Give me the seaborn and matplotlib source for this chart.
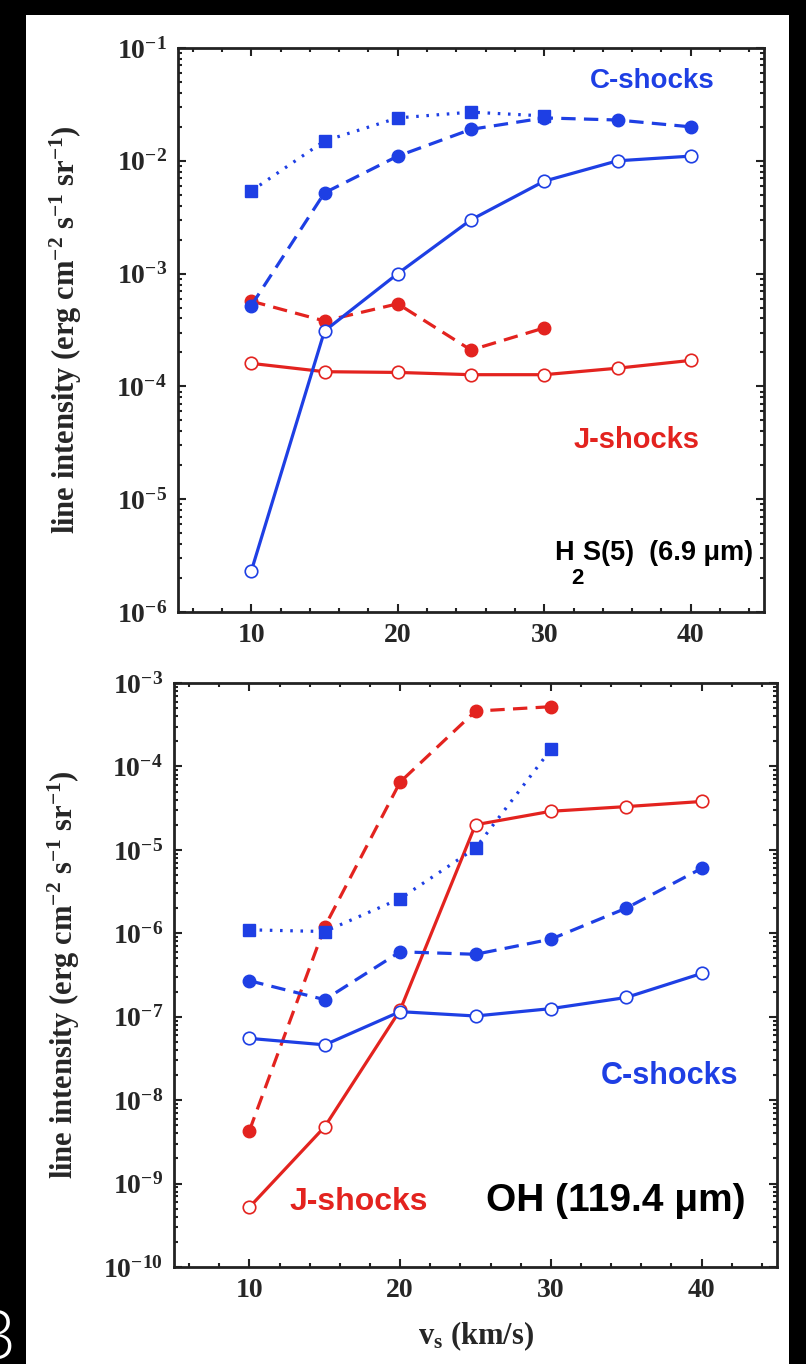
import numpy as np
import pandas as pd
import matplotlib
matplotlib.use("Agg")
import matplotlib.pyplot as plt
import seaborn as sns
from matplotlib.ticker import LogLocator, LogFormatterMathtext, MultipleLocator, NullFormatter
from matplotlib.patches import Rectangle

# ---------------- data ----------------
vs_all = [10, 15, 20, 25, 30, 35, 40]
vs_short = [10, 15, 20, 25, 30]

# H2 S(5) (6.9 um)
h2_c_square = [5.4e-3, 1.5e-2, 2.4e-2, 2.7e-2, 2.5e-2]
h2_c_filled = [5.2e-4, 5.2e-3, 1.1e-2, 1.9e-2, 2.4e-2, 2.3e-2, 2.0e-2]
h2_c_open = [2.3e-6, 3.1e-4, 1.0e-3, 3.0e-3, 6.6e-3, 1.0e-2, 1.1e-2]
h2_j_filled = [5.7e-4, 3.8e-4, 5.4e-4, 2.1e-4, 3.3e-4]
h2_j_open = [1.6e-4, 1.35e-4, 1.33e-4, 1.27e-4, 1.27e-4, 1.45e-4, 1.7e-4]

# OH (119.4 um)
oh_c_square = [1.1e-6, 1.05e-6, 2.6e-6, 1.05e-5, 1.6e-4]
oh_c_filled = [2.7e-7, 1.6e-7, 6.0e-7, 5.6e-7, 8.5e-7, 2.0e-6, 6.0e-6]
oh_c_open = [5.5e-8, 4.6e-8, 1.15e-7, 1.02e-7, 1.25e-7, 1.7e-7, 3.3e-7]
oh_j_filled = [4.3e-9, 1.2e-6, 6.5e-5, 4.6e-4, 5.2e-4]
oh_j_open = [5.2e-10, 4.8e-9, 1.2e-7, 2.0e-5, 2.9e-5, 3.3e-5, 3.8e-5]

x_ticks = [10, 20, 30, 40]
ylabel_text = r"line intensity (erg cm$^{-2}$ s$^{-1}$ sr$^{-1}$)"
xlabel_text = r"v$_{\mathrm{s}}$ (km/s)"

BLUE = "#1e3fe4"
RED = "#e3231f"

# ---------------- style ----------------
sns.set_theme(style="ticks")
plt.rcParams.update({
    "font.family": ["Liberation Serif", "DejaVu Serif"],
    "font.weight": "bold",
    "axes.labelweight": "bold",
    "mathtext.fontset": "custom",
    "mathtext.rm": "Liberation Serif:bold",
    "mathtext.it": "Liberation Serif:bold:italic",
    "mathtext.bf": "Liberation Serif:bold",
    "mathtext.default": "rm",
    "axes.edgecolor": "#222222",
    "axes.linewidth": 2.0,
    "axes.facecolor": "white",
})

fig = plt.figure(figsize=(8.06, 13.64), dpi=100, facecolor="black")
fig.patches.append(Rectangle((26 / 806, 0), (789 - 26) / 806, (1364 - 15) / 1364,
                             transform=fig.transFigure, facecolor="white",
                             edgecolor="none", zorder=-10))

W, H = 806.0, 1364.0
def axes_px(l, r, t, b):
    return [l / W, 1 - b / H, (r - l) / W, (b - t) / H]

ax1 = fig.add_axes(axes_px(178, 764, 48, 612))
ax2 = fig.add_axes(axes_px(174, 777, 683, 1267))

DASH = (0, (4.5, 2.6))
DOT = (0, (0.8, 2.4))
LW = 2.3
MS = 9

def draw(ax, x, y, color, ls, marker, filled):
    sns.lineplot(x=x, y=y, ax=ax, color=color, linestyle=ls, linewidth=LW,
                 marker=marker, markersize=MS if marker == "o" else MS - 0.5,
                 markerfacecolor=color if filled else "white",
                 markeredgecolor=color, markeredgewidth=1.0 if filled else 1.2,
                 errorbar=None, legend=False, zorder=3)

def series(ax, c_sq, c_fill, c_open, j_fill, j_open):
    draw(ax, vs_all, j_open, RED, "-", "o", False)
    draw(ax, vs_short, j_fill, RED, DASH, "o", True)
    draw(ax, vs_all, c_open, BLUE, "-", "o", False)
    draw(ax, vs_all, c_fill, BLUE, DASH, "o", True)
    draw(ax, vs_short, c_sq, BLUE, DOT, "s", True)

series(ax1, h2_c_square, h2_c_filled, h2_c_open, h2_j_filled, h2_j_open)
series(ax2, oh_c_square, oh_c_filled, oh_c_open, oh_j_filled, oh_j_open)

def style_axes(ax, ylim):
    ax.set_yscale("log")
    ax.set_xlim(5, 45)
    ax.set_ylim(*ylim)
    ax.set_xticks(x_ticks)
    ax.set_xticklabels([str(t) for t in x_ticks])
    ax.xaxis.set_minor_locator(MultipleLocator(2))
    ax.yaxis.set_major_locator(LogLocator(base=10, numticks=20))
    ax.yaxis.set_minor_locator(LogLocator(base=10, subs=np.arange(2, 10), numticks=20))
    ax.yaxis.set_major_formatter(LogFormatterMathtext())
    ax.yaxis.set_minor_formatter(NullFormatter())
    ax.tick_params(which="both", direction="in", top=True, right=True,
                   width=1.5, color="#222222")
    ax.tick_params(which="major", length=5.5, labelsize=20, pad=8)
    ax.tick_params(which="minor", length=3)
    ax.set_xlabel("")
    ax.set_ylabel("")
    for lab in ax.get_xticklabels() + ax.get_yticklabels():
        lab.set_fontweight("bold")

style_axes(ax1, (1e-6, 1e-1))
style_axes(ax2, (1e-10, 1e-3))

ax1.set_ylabel(ylabel_text, fontsize=22, fontweight="bold")
ax1.yaxis.set_label_coords(-0.160, 0.5)
ax2.set_ylabel(ylabel_text, fontsize=22, fontweight="bold")
ax2.yaxis.set_label_coords(-0.152, 0.5)
ax2.set_xlabel(xlabel_text, fontsize=22, fontweight="bold", labelpad=12)

SANS = ["Liberation Sans", "DejaVu Sans"]
# top panel annotations
ax1.text(0.916, 0.9415, "C-shocks", transform=ax1.transAxes, color=BLUE,
         fontsize=20, fontweight="bold", family=SANS, ha="right", va="center")
ax1.text(0.890, 0.305, "J-shocks", transform=ax1.transAxes, color=RED,
         fontsize=21, fontweight="bold", family=SANS, ha="right", va="center")
ax1.text(0.642, 0.105, "H", transform=ax1.transAxes, color="black",
         fontsize=19.5, fontweight="bold", family=SANS, ha="left", va="center")
ax1.text(0.671, 0.060, "2", transform=ax1.transAxes, color="black",
         fontsize=16, fontweight="bold", family=SANS, ha="left", va="center")
ax1.text(0.691, 0.105, "S(5)  (6.9 μm)", transform=ax1.transAxes, color="black",
         fontsize=19.5, fontweight="bold", family=SANS, ha="left", va="center")

# bottom panel annotations
ax2.text(0.935, 0.327, "C-shocks", transform=ax2.transAxes, color=BLUE,
         fontsize=22, fontweight="bold", family=SANS, ha="right", va="center")
ax2.text(0.192, 0.112, "J-shocks", transform=ax2.transAxes, color=RED,
         fontsize=23, fontweight="bold", family=SANS, ha="left", va="center")
ax2.text(0.948, 0.113, "OH (119.4 μm)", transform=ax2.transAxes, color="black",
         fontsize=28, fontweight="bold", family=SANS, ha="right", va="center")

# slide number fragment at bottom-left
fig.text(16 / W, -0.008, "3", color="white", fontsize=48, family=["Open Sans", "DejaVu Sans"],
         fontweight="light", ha="right", va="bottom")

fig.savefig("out.png", dpi=100, facecolor="black")
